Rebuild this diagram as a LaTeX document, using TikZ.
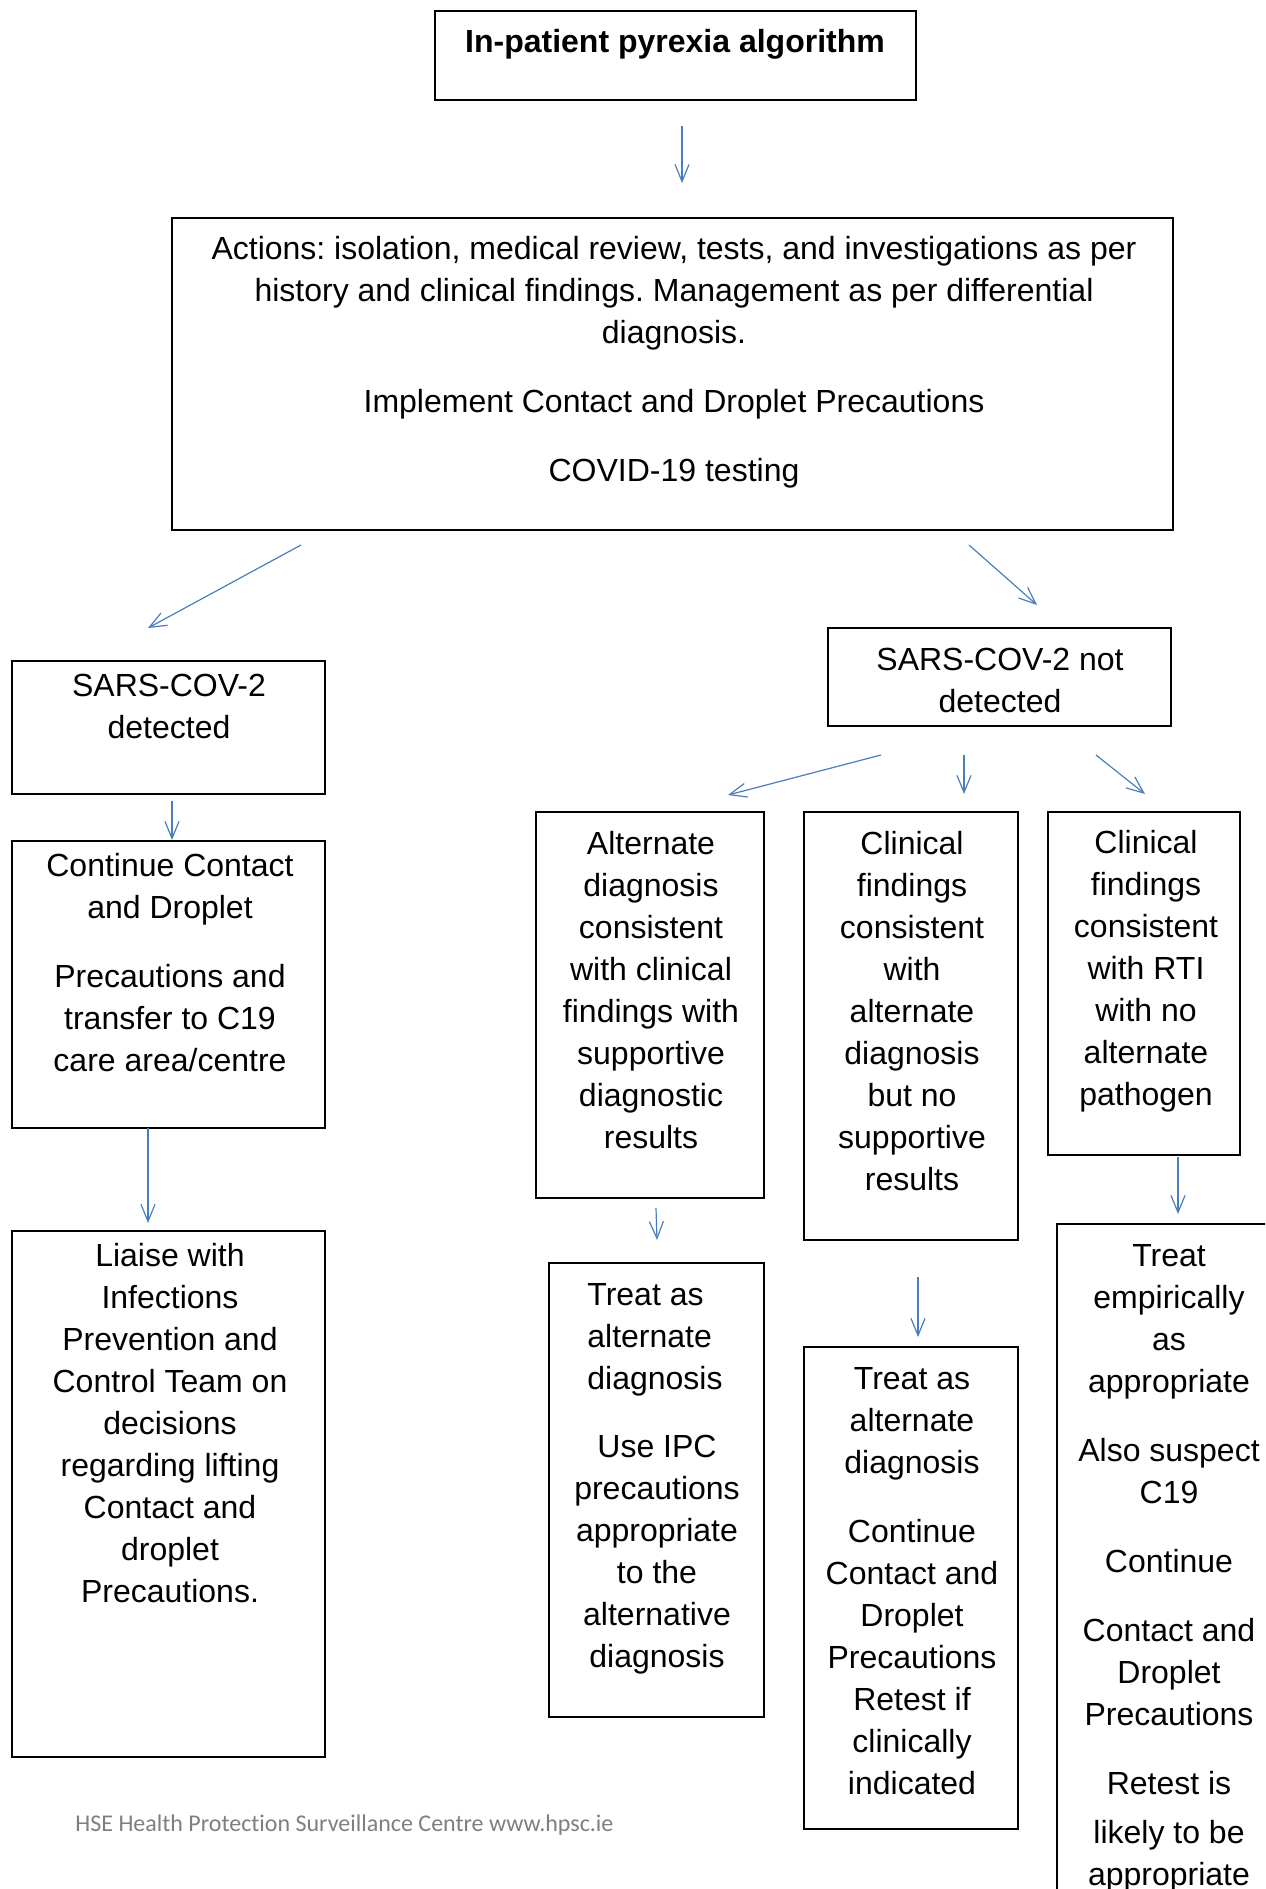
\documentclass[tikz,border=0pt]{standalone}
\usepackage{fontspec}
\setmainfont{Liberation Sans}
\newfontfamily\footfont[RawFeature=-liga]{Carlito}
\usetikzlibrary{arrows.meta,fit}
\definecolor{arrblue}{HTML}{4A7EBB}
\definecolor{footgray}{HTML}{7F7F7F}
\newcommand\fls{\rule{0pt}{12pt}}
\frenchspacing
\begin{document}
\begin{tikzpicture}[x=0.5pt,y=-0.5pt,
  box/.style={draw=black, line width=0.9pt, inner sep=0pt, outer sep=0pt},
  txt/.style={font=\fontsize{16}{21}\selectfont, align=center, inner sep=0pt, anchor=north, yshift=-1pt},
  arr/.style={draw=arrblue, line width=0.6pt, -{Straight Barb[length=8.5pt,width=7pt]}}]
\useasboundingbox (0,0) rectangle (1265,1889);
\clip (0,0) rectangle (1265,1889);
\fill[white] (0,0) rectangle (1265,1889);

% boxes
\node[box, fit={(435,11) (916,100)}] (title) {};
\node[box, fit={(172,218) (1173,530)}] (actions) {};
\node[box, fit={(12,661) (325,794)}] (det) {};
\node[box, fit={(828,628) (1171,726)}] (nd) {};
\node[box, fit={(12,841) (325,1128)}] (cont) {};
\node[box, fit={(12,1231) (325,1757)}] (liaise) {};
\node[box, fit={(536,812) (764,1198)}] (alt) {};
\node[box, fit={(804,812) (1018,1240)}] (mid) {};
\node[box, fit={(1048,812) (1240,1155)}] (rt) {};
\node[box, fit={(549,1263) (764,1717)}] (treatL) {};
\node[box, fit={(804,1347) (1018,1829)}] (treatM) {};
\node[box, fit={(1057,1224) (1300,1960)}] (emp) {};

% texts
\node[txt, font=\fontsize{16}{21}\selectfont\bfseries] (titleT) at (675,26) {\fls In-patient pyrexia algorithm};
\node[txt] (actionsT) at (674,233) {\fls Actions: isolation, medical review, tests, and investigations as per\\ history and clinical findings. Management as per differential\\ diagnosis.\\[13.5pt] Implement Contact and Droplet Precautions\\[13.5pt] COVID-19 testing};
\node[txt] (detT) at (169,670) {\fls SARS-COV-2\\detected};
\node[txt] (ndT) at (1000,644) {\fls SARS-COV-2 not\\detected};
\node[txt] (contT) at (170,850) {\fls Continue Contact\\and Droplet\\[13.5pt]Precautions and\\transfer to C19\\care area/centre};
\node[txt] (liaiseT) at (170,1240) {\fls Liaise with\\Infections\\Prevention and\\Control Team on\\decisions\\regarding lifting\\Contact and\\droplet\\Precautions.};
\node[txt] (altT) at (651,828) {\fls Alternate\\diagnosis\\consistent\\with clinical\\findings with\\supportive\\diagnostic\\results};
\node[txt] (midT) at (912,828) {\fls Clinical\\findings\\consistent\\with\\alternate\\diagnosis\\but no\\supportive\\results};
\node[txt] (rtT) at (1146,827) {\fls Clinical\\findings\\consistent\\with RTI\\with no\\alternate\\pathogen};
\node[txt, anchor=north west, align=left] (treatLa) at (587,1279) {\fls Treat as\\alternate\\diagnosis};
\node[txt] (treatLb) at (657,1431) {\fls Use IPC\\precautions\\appropriate\\to the\\alternative\\diagnosis};
\node[txt] (treatMT) at (912,1363) {\fls Treat as\\alternate\\diagnosis\\[13.5pt]Continue\\Contact and\\Droplet\\Precautions\\Retest if\\clinically\\indicated};
\node[txt] (empT) at (1169,1240) {\fls Treat\\empirically\\as\\appropriate\\[13.5pt]Also suspect\\C19\\[13.5pt]Continue\\[13.5pt]Contact and\\Droplet\\Precautions\\[13.5pt]Retest is\\[3.5pt]likely to be\\appropriate};

\node[anchor=base west, font=\footfont\fontsize{12}{14}\selectfont, text=footgray, inner sep=0pt] (foot) at (75,1831) {HSE Health Protection Surveillance Centre www.hpsc.ie};

% arrows
\draw[arr] ([shift={(6.5,26)}]title.south) -- ([shift={(9.5,-35)}]actions.north);
\draw[arr] ([shift={(-371.5,15)}]actions.south) -- ([shift={(-20.5,-33)}]det.north);
\draw[arr] ([shift={(296.5,15)}]actions.south) -- ([shift={(37.5,-23)}]nd.north);
\draw[arr] ([shift={(3.5,7)}]det.south) -- ([shift={(3.5,-1)}]cont.north);
\draw[arr] ([shift={(-20.5,0)}]cont.south) -- ([shift={(-20.5,-8)}]liaise.north);
\draw[arr] ([shift={(-118.5,29)}]nd.south) -- ([shift={(78,-17)}]alt.north);
\draw[arr] ([shift={(-35.5,29)}]nd.south) -- ([shift={(53,-18)}]mid.north);
\draw[arr] ([shift={(96.5,29)}]nd.south) -- ([shift={(1,-18)}]rt.north);
\draw[arr] ([shift={(6,10)}]alt.south) -- ([shift={(0.5,-23)}]treatL.north);
\draw[arr] ([shift={(7,37)}]mid.south) -- ([shift={(7,-10)}]treatM.north);
\draw[arr] ([shift={(34,2)}]rt.south) -- ([shift={(-0.5,-10)}]emp.north);
\end{tikzpicture}
\end{document}
